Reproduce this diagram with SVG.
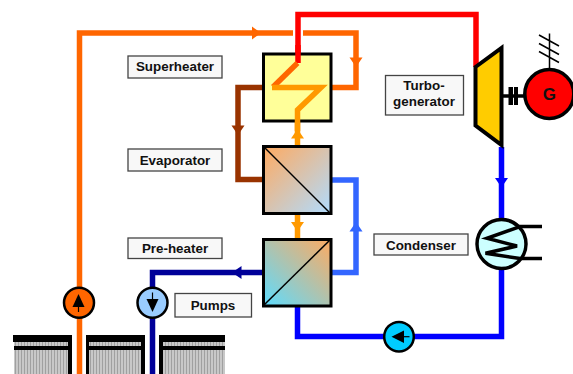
<svg xmlns="http://www.w3.org/2000/svg" width="573" height="374" viewBox="0 0 573 374">
<style>
text{font-family:"Liberation Sans",Arial,sans-serif;font-weight:bold;font-size:13.4px;fill:#111;text-anchor:middle}
.lb{fill:#f8f8f8;stroke:#444;stroke-width:1.3}
.p{fill:none;stroke-width:5.5;stroke-linejoin:miter}
.hx{stroke:#000;stroke-width:3}
.dg{stroke:#000;stroke-width:1.5;fill:none}
.k{stroke:#000;fill:none}
.bl{fill:#000}
</style>
<defs>
<linearGradient id="ev" x1="0" y1="0" x2="1" y2="1"><stop offset="0" stop-color="#ffaa60"/><stop offset="1" stop-color="#b0dcff"/></linearGradient>
<linearGradient id="ph" x1="0" y1="1" x2="1" y2="0"><stop offset="0" stop-color="#5cdcff"/><stop offset="1" stop-color="#ffaa60"/></linearGradient>
<pattern id="hatch" width="3" height="4" patternUnits="userSpaceOnUse"><rect width="3" height="4" fill="#c8c8c8"/><rect width="1" height="4" fill="#a0a0a0"/></pattern>
</defs>
<g id="heat-source">
<rect x="14" y="342" width="54" height="32" fill="url(#hatch)"/>
<rect x="89" y="342" width="52" height="32" fill="url(#hatch)"/>
<rect x="163" y="342" width="62" height="32" fill="url(#hatch)"/>
<path class="bl" d="M13 335H72V374H68V350H14V346H68V342H13Z"/>
<path class="bl" d="M86 335H145V374H141V350H89V374H86ZM89 342V346H141V342Z" fill-rule="evenodd"/>
<path class="bl" d="M159 335H225V342H163V346H225V350H163V374H159Z"/>
</g>
<g id="connectors">
<path class="p" stroke="#ff6600" d="M79.5 374V33H293M303 33H356V87.5H331"/>
<path class="p" stroke="#993300" d="M263 87.5H238V179.5H263"/>
<path class="p" stroke="#3366ff" d="M331 180H356V272.5H331"/>
<path class="p" stroke="#000099" d="M263 272.5H152.5V374"/>
<path class="p" stroke="#ff9900" d="M297.5 146V122M297.5 214V239"/>
<path class="p" stroke="#0000ff" d="M297.5 306V336.5H501.5V147"/>
<path class="p" stroke="#ff0000" d="M298 63V14.5H476V67"/>
<path fill="#ff6600" d="M252 26.500L261 33L252 39.500ZM349.500 57.500H362.500L356 67Z"/>
<path fill="#993300" d="M231.500 125.500H244.500L238 135Z"/>
<path fill="#3366ff" d="M349.500 231.500H362.500L356 222Z"/>
<path fill="#000099" d="M241.500 266V279L232 272.500Z"/>
<path fill="#ff9900" d="M291 138.500H304L297.500 129ZM291 222H304L297.500 231.500Z"/>
<path fill="#0000ff" d="M495 178H508L501.500 187.500Z"/>
</g>
<g id="superheater">
<rect class="hx" x="263.5" y="54" width="67.5" height="67" fill="#ffff99"/>
<path class="p" stroke="#ff0000" d="M298 45V63"/>
<path class="p" stroke="#ff6600" stroke-width="4.5" d="M297.5 63L273 87"/>
<path class="p" stroke="#ff9900" d="M272 87.5H321L297.5 110V131"/>
</g>
<g id="evaporator">
<rect class="hx" x="263.5" y="146.5" width="67.5" height="67" fill="url(#ev)"/>
<path class="dg" d="M264 147L330 213"/>
</g>
<g id="preheater">
<rect class="hx" x="263.5" y="239.5" width="67.5" height="66.5" fill="url(#ph)"/>
<path class="dg" d="M264 305L330 240"/>
</g>
<g id="turbine">
<path d="M475.5 67L501.5 48V145L475.5 125.5Z" fill="#ffcc00" stroke="#000" stroke-width="4"/>
<path class="k" stroke-width="3.5" d="M501 96H526"/>
<path class="bl" d="M508.5 87H513V105H508.5ZM514 87H518V105H514Z"/>
</g>
<g id="generator">
<path class="k" stroke-width="1.5" d="M549.5 70V33.500M539 35L559 46M539 43.500L559 54.500M539 51.500L559 62.500"/>
<circle cx="549.300" cy="94" r="24.500" fill="#ff0000" stroke="#000" stroke-width="3.500"/>
<text x="549.300" y="100" style="font-size:17px">G</text>
</g>
<g id="condenser">
<circle cx="501.500" cy="244" r="24.500" fill="#ccffff" stroke="#000" stroke-width="3.500"/>
<path class="k" stroke-width="3.500" d="M518 226.500H542M518 258.500H542M520 226.700L487 238.300L517 246L485.500 253.300L520 258.500"/>
</g>
<g id="pump-feed">
<circle cx="399" cy="336.700" r="14.800" fill="#00ccff" stroke="#000" stroke-width="2.500"/>
<path class="bl" d="M391.500 336.700L404 330.500V343Z"/>
<path class="k" stroke-width="1.200" d="M404 336.700H409.500"/>
</g>
<g id="pump-orange">
<circle cx="79" cy="302.700" r="15" fill="#ff6600" stroke="#000" stroke-width="2.500"/>
<path class="bl" d="M78.500 294L84.500 307H72.500Z"/>
<path class="k" stroke-width="1.200" d="M78.500 307V312"/>
</g>
<g id="pump-blue">
<circle cx="152.500" cy="302.700" r="15" fill="#99ccff" stroke="#000" stroke-width="2.500"/>
<path class="bl" d="M152.500 312L146.500 299H158.500Z"/>
<path class="k" stroke-width="1.200" d="M152.500 292.500V299"/>
</g>
<g id="label-superheater"><rect class="lb" x="128" y="56" width="94" height="22"/><text x="175" y="71">Superheater</text></g>
<g id="label-evaporator"><rect class="lb" x="128" y="149" width="94" height="22"/><text x="175" y="164.500">Evaporator</text></g>
<g id="label-preheater"><rect class="lb" x="128" y="238" width="94" height="20.500"/><text x="175" y="253">Pre-heater</text></g>
<g id="label-pumps"><rect class="lb" x="175" y="293.500" width="76.500" height="23.500"/><text x="213" y="309.500">Pumps</text></g>
<g id="label-condenser"><rect class="lb" x="374" y="234" width="94" height="21"/><text x="421" y="249.500">Condenser</text></g>
<g id="label-turbo"><rect class="lb" x="385.500" y="75.500" width="78" height="39.500"/><text x="424" y="90">Turbo-</text><text x="424" y="105.500">generator</text></g>
</svg>
